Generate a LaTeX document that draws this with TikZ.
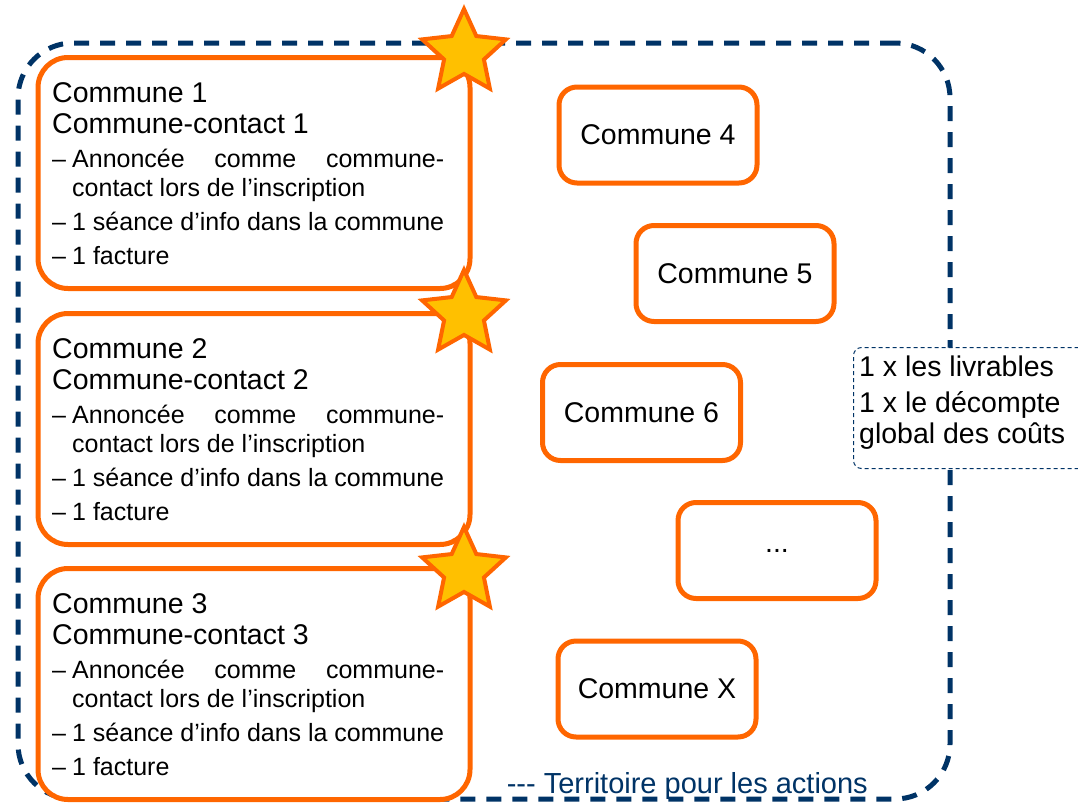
\documentclass[tikz,border=0pt]{standalone}
\usepackage{fontspec}
\newfontfamily\arial{Liberation Sans}
\usetikzlibrary{shapes.geometric}
\definecolor{orangecom}{HTML}{FF6600}
\definecolor{bleuter}{HTML}{003366}
\definecolor{jaune}{HTML}{FFC000}
\newcommand{\puce}[1]{\par\hangindent=20pt\hangafter=1\noindent\makebox[20pt][l]{–}#1}
\newcommand{\titrecom}[1]{{\fontsize{28.5}{31}\selectfont #1\par}\fontsize{25}{29}\selectfont\parskip=5pt\tolerance=10000\hbadness=10000}

\begin{document}
\begin{tikzpicture}[x=1pt,y=-1pt,
    commune/.style={draw=orangecom, line width=5pt, rounded corners=30pt, fill=white,
      minimum width=432pt, minimum height=231pt},
    petite/.style={draw=orangecom, line width=5pt, rounded corners=18pt,
      minimum width=198pt, minimum height=96pt, font=\arial\fontsize{28.5}{31}\selectfont},
    texte/.style={anchor=north west, inner sep=0pt, text width=392pt, align=justify, font=\arial},
    etoile/.style={star, star points=5, star point ratio=2.1, minimum size=88pt,
      inner sep=0pt, fill=jaune, draw=orangecom, line width=4pt},
    cadre/.style={draw=bleuter, line width=5pt, dash pattern=on 15pt off 11pt,
      rounded corners=55pt, minimum width=932pt, minimum height=756pt}]
  \useasboundingbox (0,0) rectangle (1078,803);

  % territoire
  \node (terr) [cadre] at (484,421) {};
  \node (lterr) [anchor=base east, inner sep=0pt, text=bleuter,
    font=\arial\fontsize{29}{31}\selectfont] at (868,793) {--- Territoire pour les actions};

  % communes-contact
  \node (c1) [commune] at (254,173) {};
  \node (c2) [commune] at (254,429) {};
  \node (c3) [commune] at (254,684) {};

  \node (t1) [texte] at (52,82) {\titrecom{Commune 1\par Commune-contact 1}%
    \puce{Annoncée comme commune-\linebreak contact lors de l’inscription}
    \puce{1 séance d’info dans la commune}
    \puce{1 facture}\par};
  \node (t2) [texte] at (52,338) {\titrecom{Commune 2\par Commune-contact 2}%
    \puce{Annoncée comme commune-\linebreak contact lors de l’inscription}
    \puce{1 séance d’info dans la commune}
    \puce{1 facture}\par};
  \node (t3) [texte] at (52,593) {\titrecom{Commune 3\par Commune-contact 3}%
    \puce{Annoncée comme commune-\linebreak contact lors de l’inscription}
    \puce{1 séance d’info dans la commune}
    \puce{1 facture}\par};

  \node (s1) [etoile] at (464,53) {};
  \node (s2) [etoile] at (464,314) {};
  \node (s3) [etoile] at (464,571) {};

  % autres communes
  \node (c4) [petite] at (658,135) {Commune 4};
  \node (c5) [petite] at (735,273.5) {Commune 5};
  \node (c6) [petite] at (641.5,412.5) {Commune 6};
  \node (cn) [petite] at (777,550.5) {...};
  \node (cx) [petite] at (657,689) {Commune X};

  % livrables
  \node (bilan) [anchor=north west, draw=bleuter, line width=1pt, dash pattern=on 4pt off 3pt,
    rounded corners=8pt, fill=white, minimum width=240pt, minimum height=121pt] at (853,347) {};
  \node (liv) [anchor=north west, inner sep=0pt, align=left,
    font=\arial\fontsize{28.5}{31}\selectfont] at (859,356)
    {1 x les livrables\\[5pt]1 x le décompte\\global des coûts};
\end{tikzpicture}
\end{document}
